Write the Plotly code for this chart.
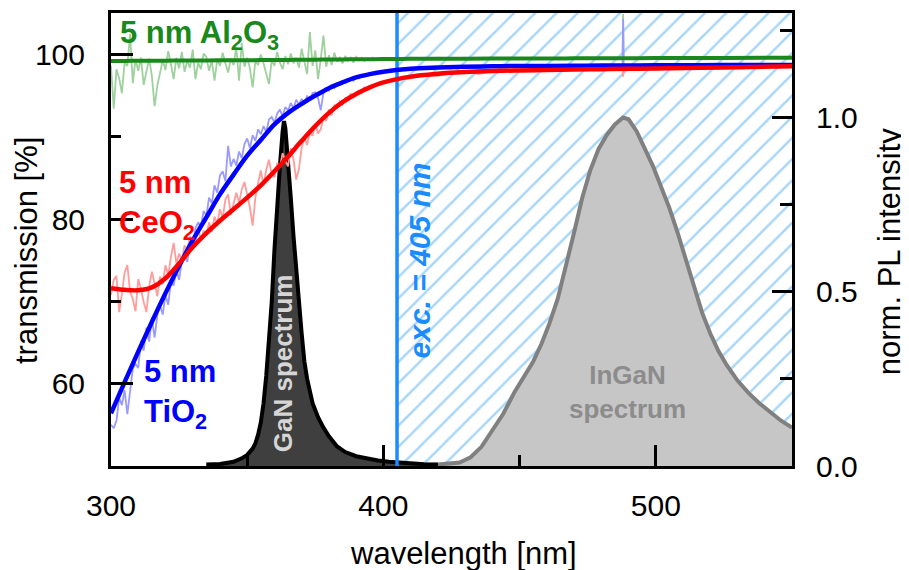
import plotly.graph_objects as go

# ---------------- data ----------------
X_MIN, X_MAX = 300, 550
PL_MAX = 1.3
EXC_NM = 405

X_TICKS = [300, 400, 500]
X_MINOR = [350, 450]
T_TICKS = [60, 80, 100]
T_MINOR = [70, 90]
PL_TICKS = [0.0, 0.5, 1.0]
PL_TICKTEXT = ["0.0", "0.5", "1.0"]
PL_MINOR = [0.25, 0.75, 1.25]

# fitted transmission curves [%]
WL_FIT = [300, 305, 310, 315, 320, 325, 330, 335, 340, 345, 350, 355, 360, 365, 370, 375, 380,
          385, 390, 395, 400, 410, 420, 430, 440, 450, 460, 470, 480, 490, 500, 525, 550]
TIO2_FIT = [56.4, 60.2, 63.9, 67.5, 71.0, 74.3, 77.4, 80.2, 83.0, 85.4, 87.7, 89.6, 91.5, 92.9,
            94.0, 95.0, 95.9, 96.6, 97.2, 97.6, 97.9, 98.25, 98.4, 98.5, 98.55, 98.6, 98.6, 98.62,
            98.65, 98.66, 98.68, 98.7, 98.72]
CEO2_FIT = [71.6, 71.4, 71.35, 71.7, 72.8, 74.6, 76.6, 78.3, 79.8, 81.2, 82.6, 84.1, 85.8, 87.6,
            89.5, 91.3, 92.9, 94.2, 95.2, 96.0, 96.6, 97.3, 97.65, 97.85, 97.98, 98.06, 98.12,
            98.17, 98.21, 98.25, 98.3, 98.42, 98.55]
AL2O3_FIT = [99.20, 99.21, 99.22, 99.23, 99.24, 99.25, 99.26, 99.27, 99.28, 99.29, 99.30, 99.31,
             99.32, 99.33, 99.35, 99.36, 99.38, 99.39, 99.41, 99.42, 99.44, 99.46, 99.47, 99.48,
             99.49, 99.50, 99.51, 99.52, 99.53, 99.54, 99.55, 99.57, 99.60]

# measured (raw) transmission [%]
WL_RAW_UV = list(range(300, 401))
TIO2_RAW_UV = [55.0, 54.6, 55.5, 58.3, 57.4, 59.2, 56.3, 58.9, 61.8, 62.4,
               61.9, 65.2, 64.0, 66.8, 65.1, 67.9, 65.6, 68.3, 69.5, 68.4,
               70.8, 69.6, 72.4, 71.9, 73.8, 72.6, 74.9, 75.6, 74.8, 77.2,
               76.6, 78.9, 79.6, 79.1, 81.0, 80.4, 82.6, 81.9, 84.1, 83.2,
               85.3, 85.8, 84.6, 88.9, 86.4, 87.3, 86.5, 88.2, 87.4, 89.1,
               89.8, 88.6, 90.2, 89.5, 90.9, 90.3, 91.3, 90.6, 92.1, 92.4,
               91.7, 92.8, 93.3, 92.5, 93.6, 93.2, 94.1, 93.4, 94.5, 93.9,
               94.6, 94.0, 95.0, 94.4, 95.3, 95.4, 94.7, 93.2, 95.4, 95.9,
               95.6, 96.2, 95.9, 96.5, 96.3, 96.8, 96.5, 96.9, 97.0, 96.8,
               97.3, 97.1, 97.5, 97.3, 97.6, 97.5, 97.8, 97.6, 97.9, 97.8,
               98.0]
CEO2_RAW_UV = [70.8, 72.6, 73.1, 68.7, 70.9, 73.5, 74.4, 71.2, 70.3, 68.8,
               72.7, 71.5, 69.9, 68.7, 71.8, 73.6, 72.2, 70.6, 73.0, 72.1,
               74.4, 73.2, 75.4, 77.1, 74.6, 75.8, 74.9, 76.8, 76.3, 77.9,
               76.7, 77.5, 78.9, 77.4, 78.6, 78.0, 79.6, 78.4, 80.3, 79.5,
               81.2, 80.1, 82.4, 83.0, 80.5, 81.9, 83.2, 82.0, 83.6, 84.5,
               82.9, 81.4, 79.2, 82.6, 84.4, 85.9, 84.1, 86.0, 87.2, 85.4,
               85.1, 86.8, 86.3, 88.0, 87.1, 86.4, 88.6, 87.2, 84.8, 86.1,
               88.7, 89.9, 89.0, 90.6, 90.1, 91.6, 90.4, 90.9, 92.4, 91.9,
               93.3, 92.6, 93.8, 93.5, 94.3, 93.9, 94.7, 94.8, 95.2, 94.9,
               95.4, 95.6, 95.3, 96.0, 95.8, 96.2, 96.1, 96.4, 96.3, 96.7,
               96.5]
AL2O3_RAW_UV = [98.6, 93.4, 98.2, 97.1, 95.3, 99.0, 98.6, 102.5, 96.5, 99.4,
                98.0, 99.6, 96.3, 97.8, 99.5, 97.4, 93.7, 96.2, 97.6, 99.3,
                98.1, 100.4, 98.8, 97.0, 99.6, 98.3, 100.3, 97.9, 99.2, 98.4,
                100.6, 97.0, 99.0, 98.2, 100.1, 99.7, 98.0, 99.3, 96.8, 99.4,
                98.6, 100.2, 98.9, 97.8, 99.5, 98.7, 100.9, 96.8, 101.4, 98.5,
                99.6, 98.3, 96.0, 99.2, 98.7, 100.0, 98.9, 97.5, 96.4, 99.3,
                98.6, 100.3, 99.0, 98.2, 99.8, 98.8, 100.1, 98.9, 99.6, 98.4,
                100.7, 99.1, 97.6, 102.7, 98.6, 100.5, 97.0, 99.4, 102.3, 98.5,
                99.9, 98.7, 100.2, 99.1, 99.7, 98.9, 99.8, 99.2, 99.6, 99.0,
                99.7, 99.3, 99.6, 99.2, 99.5, 99.3, 99.6, 99.4, 99.5, 99.3,
                99.5]
WL_RAW_VIS = [402, 405, 410, 415, 420, 425, 430, 435, 440, 445, 450, 455, 460, 465, 470, 475,
              480, 485, 487.8, 488, 488.2, 490, 495, 500, 505, 510, 515, 520, 525, 530, 535,
              540, 545, 550]
TIO2_RAW_VIS = [97.9, 98.1, 98.2, 98.3, 98.4, 98.3, 98.5, 98.4, 98.6, 98.5, 98.6, 98.5, 98.6,
                98.7, 98.6, 98.7, 98.6, 98.7, 98.7, 104.3, 98.7, 98.7, 98.6, 98.7, 98.8, 98.7,
                98.6, 98.8, 98.7, 98.8, 98.7, 98.8, 98.7, 98.8]
CEO2_RAW_VIS = [96.7, 96.9, 97.1, 97.6, 97.4, 97.7, 97.9, 97.6, 98.0, 97.9, 98.1, 97.9, 98.1,
                98.0, 98.2, 98.1, 98.2, 98.2, 98.2, 97.3, 98.2, 98.2, 98.3, 98.2, 98.3, 98.4,
                98.3, 98.4, 98.4, 98.5, 98.4, 98.5, 98.5, 98.5]
AL2O3_RAW_VIS = [99.4, 99.5, 99.6, 99.4, 99.6, 99.5, 99.6, 99.4, 99.6, 99.5, 99.5, 99.6, 99.5,
                 99.6, 99.5, 99.6, 99.5, 99.6, 99.5, 104.9, 99.5, 99.6, 99.5, 99.6, 99.5, 99.6,
                 99.6, 99.7, 99.5, 99.6, 99.6, 99.7, 99.6, 99.6]

# normalised PL spectra
GAN_WL = [335, 340, 345, 348, 350, 352, 353, 354, 355, 356, 357, 358, 359, 360, 361, 362, 363,
          363.5, 364, 365, 366, 367, 368, 369, 370, 371, 372, 374, 376, 378, 380, 383, 386, 390,
          394, 398, 402, 406, 410, 415, 420]
GAN_PL = [0.004, 0.006, 0.012, 0.022, 0.032, 0.05, 0.065, 0.09, 0.125, 0.18, 0.26, 0.36, 0.47,
          0.62, 0.75, 0.86, 0.96, 0.99, 0.97, 0.88, 0.77, 0.66, 0.56, 0.47, 0.38, 0.30, 0.25,
          0.18, 0.14, 0.11, 0.085, 0.056, 0.04, 0.028, 0.021, 0.016, 0.012, 0.009, 0.007, 0.005,
          0.004]
INGAN_WL = [410, 420, 428, 432, 436, 440, 444, 448, 452, 455, 458, 461, 464, 467, 470, 473, 476,
            479, 482, 485, 488, 490, 493, 496, 499, 502, 505, 508, 511, 514, 517, 520, 523, 526,
            530, 534, 538, 542, 546, 550]
INGAN_PL = [0.002, 0.004, 0.01, 0.025, 0.055, 0.10, 0.15, 0.21, 0.26, 0.30, 0.35, 0.41, 0.48,
            0.57, 0.67, 0.77, 0.85, 0.91, 0.95, 0.98, 1.0, 0.995, 0.96, 0.91, 0.86, 0.80, 0.74,
            0.67, 0.59, 0.51, 0.44, 0.38, 0.33, 0.29, 0.245, 0.21, 0.18, 0.155, 0.13, 0.11]

# ---------------- styling ----------------
FONT = "Liberation Sans, Arial, Helvetica, sans-serif"
BLUE, RED, GREEN = "#0000ff", "#ff0000", "#18891a"
BLUE_L, RED_L, GREEN_L = "#9a9aff", "#ff9c9c", "#9fd19f"
EXC_COL = "#1a8cff"
HATCH = "#52aef2"

fig = go.Figure()

# excitation hatched region (right axis, drawn first)
fig.add_trace(go.Scatter(
    x=[EXC_NM, X_MAX, X_MAX, EXC_NM, EXC_NM], y=[0, 0, PL_MAX, PL_MAX, 0],
    mode="lines", fill="toself", line=dict(width=0, color="rgba(0,0,0,0)"),
    fillcolor="rgba(255,255,255,0)",
    fillpattern=dict(shape="/", fgcolor=HATCH, bgcolor="rgba(255,255,255,0)", size=15, solidity=0.17),
    hoverinfo="skip", xaxis="x", yaxis="y"))

fig.add_trace(go.Scatter(x=INGAN_WL, y=INGAN_PL, mode="lines", fill="tozeroy",
                         fillcolor="#c6c6c6", line=dict(color="#808080", width=4),
                         xaxis="x", yaxis="y"))
fig.add_trace(go.Scatter(x=GAN_WL, y=GAN_PL, mode="lines", fill="tozeroy",
                         fillcolor="#3f3f3f", line=dict(color="#000000", width=4),
                         xaxis="x", yaxis="y"))
fig.add_trace(go.Scatter(x=[EXC_NM, EXC_NM], y=[0, PL_MAX], mode="lines",
                         line=dict(color=EXC_COL, width=3.5), xaxis="x", yaxis="y"))

# transmission (left axis, overlay -> drawn on top)
for wl_uv, uv, wl_vis, vis, col in [
        (WL_RAW_UV, AL2O3_RAW_UV, WL_RAW_VIS, AL2O3_RAW_VIS, GREEN_L),
        (WL_RAW_UV, TIO2_RAW_UV, WL_RAW_VIS, TIO2_RAW_VIS, BLUE_L),
        (WL_RAW_UV, CEO2_RAW_UV, WL_RAW_VIS, CEO2_RAW_VIS, RED_L)]:
    fig.add_trace(go.Scatter(x=list(wl_uv) + list(wl_vis), y=list(uv) + list(vis), mode="lines",
                             line=dict(color=col, width=1.8), xaxis="x", yaxis="y2"))

for vals, col, w in [(TIO2_FIT, BLUE, 4.5), (CEO2_FIT, RED, 4.5), (AL2O3_FIT, GREEN, 4)]:
    fig.add_trace(go.Scatter(x=WL_FIT, y=vals, mode="lines", line=dict(color=col, width=w, shape="spline"),
                             xaxis="x", yaxis="y2"))

tickfont = dict(family=FONT, size=30, color="black")
common = dict(showline=True, linewidth=3, linecolor="black", ticks="inside", tickwidth=3,
              tickcolor="black", showgrid=False, zeroline=False, tickfont=tickfont)

# page body adds an 8 px offset, so the figure is 8 px smaller and shifted
fig.update_layout(
    width=901, height=562,
    margin=dict(l=103, r=117, t=2, b=104),
    paper_bgcolor="white", plot_bgcolor="white",
    showlegend=False,
    xaxis=dict(range=[X_MIN, X_MAX], tickvals=X_TICKS, ticklen=21, mirror=True,
               ticklabelstandoff=11,
               minor=dict(tickvals=X_MINOR, ticks="inside", ticklen=11, tickwidth=3, tickcolor="black"),
               **common),
    yaxis=dict(range=[0, PL_MAX], side="right", tickvals=PL_TICKS, ticktext=PL_TICKTEXT,
               ticklen=20, ticklabelstandoff=15,
               minor=dict(tickvals=PL_MINOR, ticks="inside", ticklen=12, tickwidth=3, tickcolor="black"),
               **common),
    yaxis2=dict(range=[50, 105.03], side="left", overlaying="y", anchor="x", tickvals=T_TICKS,
                ticklen=22, ticklabelstandoff=17,
                minor=dict(tickvals=T_MINOR, ticks="inside", ticklen=10, tickwidth=3, tickcolor="black"),
                **common),
)

ann = []
def A(text, x, y, size, color, bold=False, italic=False, angle=0, xanchor="center", yanchor="middle", align="center"):
    t = text
    if bold:
        t = "<b>" + t + "</b>"
    if italic:
        t = "<i>" + t + "</i>"
    ann.append(dict(text=t, x=x, y=y, xref="paper", yref="paper", showarrow=False,
                    font=dict(family=FONT, size=size, color=color), textangle=angle,
                    xanchor=xanchor, yanchor=yanchor, align=align))

A("wavelength [nm]", 0.5173, -0.1938, 31, "black")
A("transmission [%]", -0.1233, 0.4747, 31, "black", angle=-90)
A("norm. PL intensity", 1.1435, 0.4736, 31, "black", angle=-90)
A("5 nm Al<sub>2</sub>O<sub>3</sub>", 0.0103, 0.952, 31, GREEN, bold=True, xanchor="left")
A("5 nm<br>CeO<sub>2</sub>", 0.0088, 0.576, 31, RED, bold=True, xanchor="left", align="left")
A("5 nm<br>TiO<sub>2</sub>", 0.0455, 0.1597, 31, BLUE, bold=True, xanchor="left", align="left")
A("InGaN<br>spectrum", 0.759, 0.164, 26, "#8c8c8c", bold=True)
A("GaN spectrum", 0.2526, 0.2269, 26, "#d6d6d6", bold=True, angle=-90)
A("exc. = 405 nm", 0.4537, 0.4537, 30, EXC_COL, bold=True, italic=True, angle=-90)
fig.update_layout(annotations=ann)

fig.write_html("out.html")
